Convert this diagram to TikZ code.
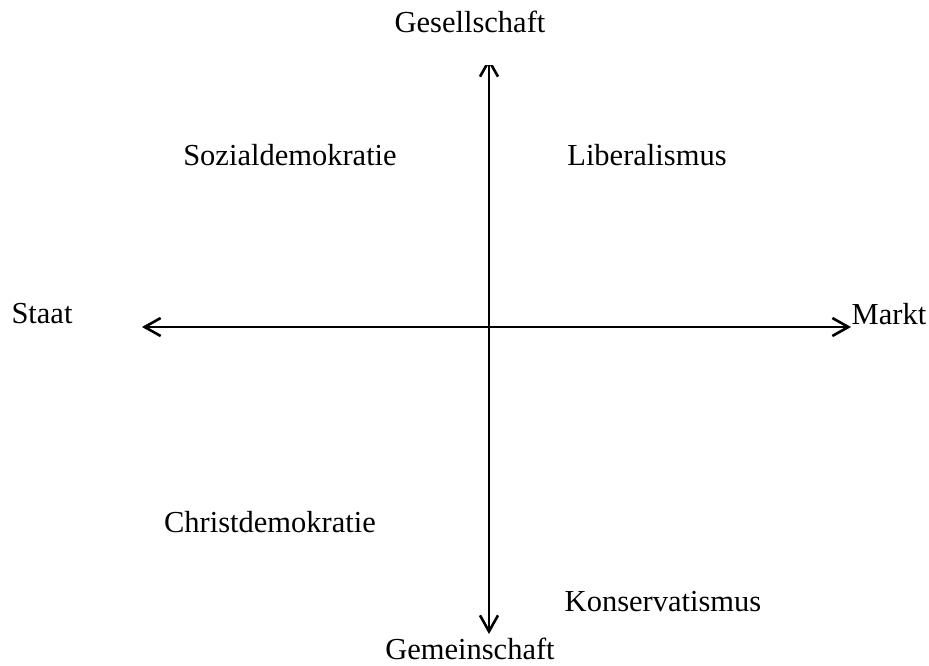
\documentclass[tikz,border=0pt]{standalone}
\usepackage{fontspec}
\setmainfont{Liberation Serif}
\usetikzlibrary{arrows.meta}
\begin{document}
\begin{tikzpicture}[x=1pt,y=-1pt,
  lbl/.style={font=\fontsize{30.5}{33}\selectfont, inner sep=0pt},
  axis/.style={line width=1.8pt, >={Straight Barb[length=16pt,width=18pt,line width=2.6pt]}, <->}]
\useasboundingbox (0,0) rectangle (929,666);
\coordinate (west) at (142,327);
\coordinate (east) at (851,327);
\coordinate (north) at (489,58);
\coordinate (south) at (489,634);
\draw[axis] (west) -- (east);
\begin{scope}
\clip (0,66) rectangle (929,666);
\draw[axis] (north) -- (south);
\end{scope}
\node[lbl] (ges) at (470,22) {Gesellschaft};
\node[lbl] (gem) at (470,649) {Gemeinschaft};
\node[lbl] (staat) at (42,314) {Staat};
\node[lbl] (markt) at (889,314) {Markt};
\node[lbl] (sd) at (290,155) {Sozialdemokratie};
\node[lbl] (lib) at (647,155) {Liberalismus};
\node[lbl] (cd) at (270,522) {Christdemokratie};
\node[lbl] (kon) at (663,602) {Konservatismus};
\end{tikzpicture}
\end{document}
